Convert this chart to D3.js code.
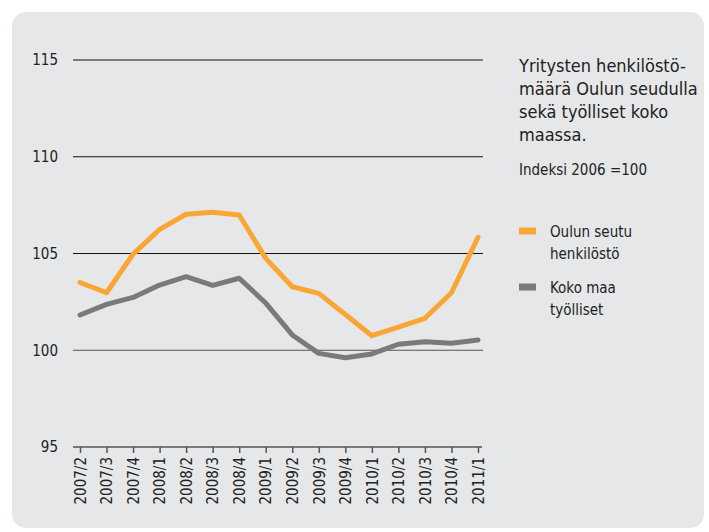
<!DOCTYPE html>
<html><head><meta charset="utf-8">
<script src="https://cdn.jsdelivr.net/npm/d3@7"></script>
<style>
html,body{margin:0;padding:0;background:#fff;}
svg{display:block;}
text{font-family:"Liberation Sans Narrow","DejaVu Sans Condensed","Arial Narrow",sans-serif;fill:#222;}
</style></head>
<body>
<svg id="chart" width="709" height="532"></svg>
<script>
const categories = ["2007/2","2007/3","2007/4","2008/1","2008/2","2008/3","2008/4","2009/1","2009/2","2009/3","2009/4","2010/1","2010/2","2010/3","2010/4","2011/1"];
const oulunSeutu = [103.5,102.97,104.97,106.25,107.03,107.13,106.99,104.75,103.28,102.94,101.85,100.75,101.19,101.65,102.97,105.84];
const kokoMaa = [101.82,102.37,102.73,103.37,103.8,103.35,103.72,102.44,100.79,99.84,99.61,99.81,100.31,100.44,100.36,100.53];
const yTicks = [95,100,105,110,115];
const seriesNames = [["Oulun seutu","henkilöstö"],["Koko maa","työlliset"]];
const colors = ["#F9A634","#7A7A7C"];
const titleLines = ["Yritysten henkilöstö-","määrä Oulun seudulla","sekä työlliset koko","maassa."];
const subtitle = "Indeksi 2006 =100";

const svg = d3.select("#chart");
svg.append("rect").attr("x",12).attr("y",12).attr("width",692).attr("height",516).attr("rx",14).attr("fill","#E6E7E8");

const x = d3.scalePoint().domain(categories).range([80,478]);
const y = d3.scaleLinear().domain([95,115]).range([447,60]);

// gridlines
svg.append("g").selectAll("line").data(yTicks.filter(d=>d>95)).join("line")
  .attr("x1",73).attr("x2",483).attr("y1",d=>y(d)).attr("y2",d=>y(d))
  .attr("stroke",d=>d===100?"#555":"#111").attr("stroke-width",1.2);

// y labels
svg.append("g").selectAll("text").data(yTicks).join("text")
  .attr("x",58).attr("y",d=>y(d)).attr("dy","0.35em").attr("text-anchor","end")
  .style("font-size","15px").text(d=>d);

// x axis
const xAxis = svg.append("g").attr("transform",`translate(0,${y(95)})`)
  .call(d3.axisBottom(x).tickSize(6).tickSizeOuter(0));
xAxis.select(".domain").attr("d","M73,0H482").attr("stroke","#555").attr("stroke-width",1.5);
xAxis.selectAll(".tick line").attr("stroke","#555").attr("stroke-width",1.5);
xAxis.selectAll(".tick text")
  .attr("transform","rotate(-90)").attr("text-anchor","end")
  .attr("x",-10).attr("y",0).attr("dy","0.35em")
  .style("font-size","15px").style("font-family",null).attr("fill","#222");
xAxis.attr("font-family",null).attr("font-size",null);

const line = d3.line().x((d,i)=>x(categories[i])).y(d=>y(d));
[kokoMaa, oulunSeutu].forEach((s,k)=>{
  svg.append("path").datum(s).attr("d",line).attr("fill","none")
    .attr("stroke",k===0?colors[1]:colors[0]).attr("stroke-width",5)
    .attr("stroke-linejoin","round").attr("stroke-linecap","round");
});

// title
const t = svg.append("text").attr("x",519).attr("y",72).style("font-size","18px");
titleLines.forEach((l,i)=>t.append("tspan").attr("x",519).attr("y",72+i*23).text(l));
svg.append("text").attr("x",519).attr("y",175).style("font-size","15px").text(subtitle);

// legend
seriesNames.forEach((n,i)=>{
  const cy = 231 + i*56;
  svg.append("rect").attr("x",519).attr("y",cy-3.5).attr("width",17).attr("height",7).attr("fill",colors[i]);
  const tt = svg.append("text").style("font-size","15px");
  n.forEach((l,j)=>tt.append("tspan").attr("x",550).attr("y",cy+6+j*22).text(l));
});
</script>
</body></html>
